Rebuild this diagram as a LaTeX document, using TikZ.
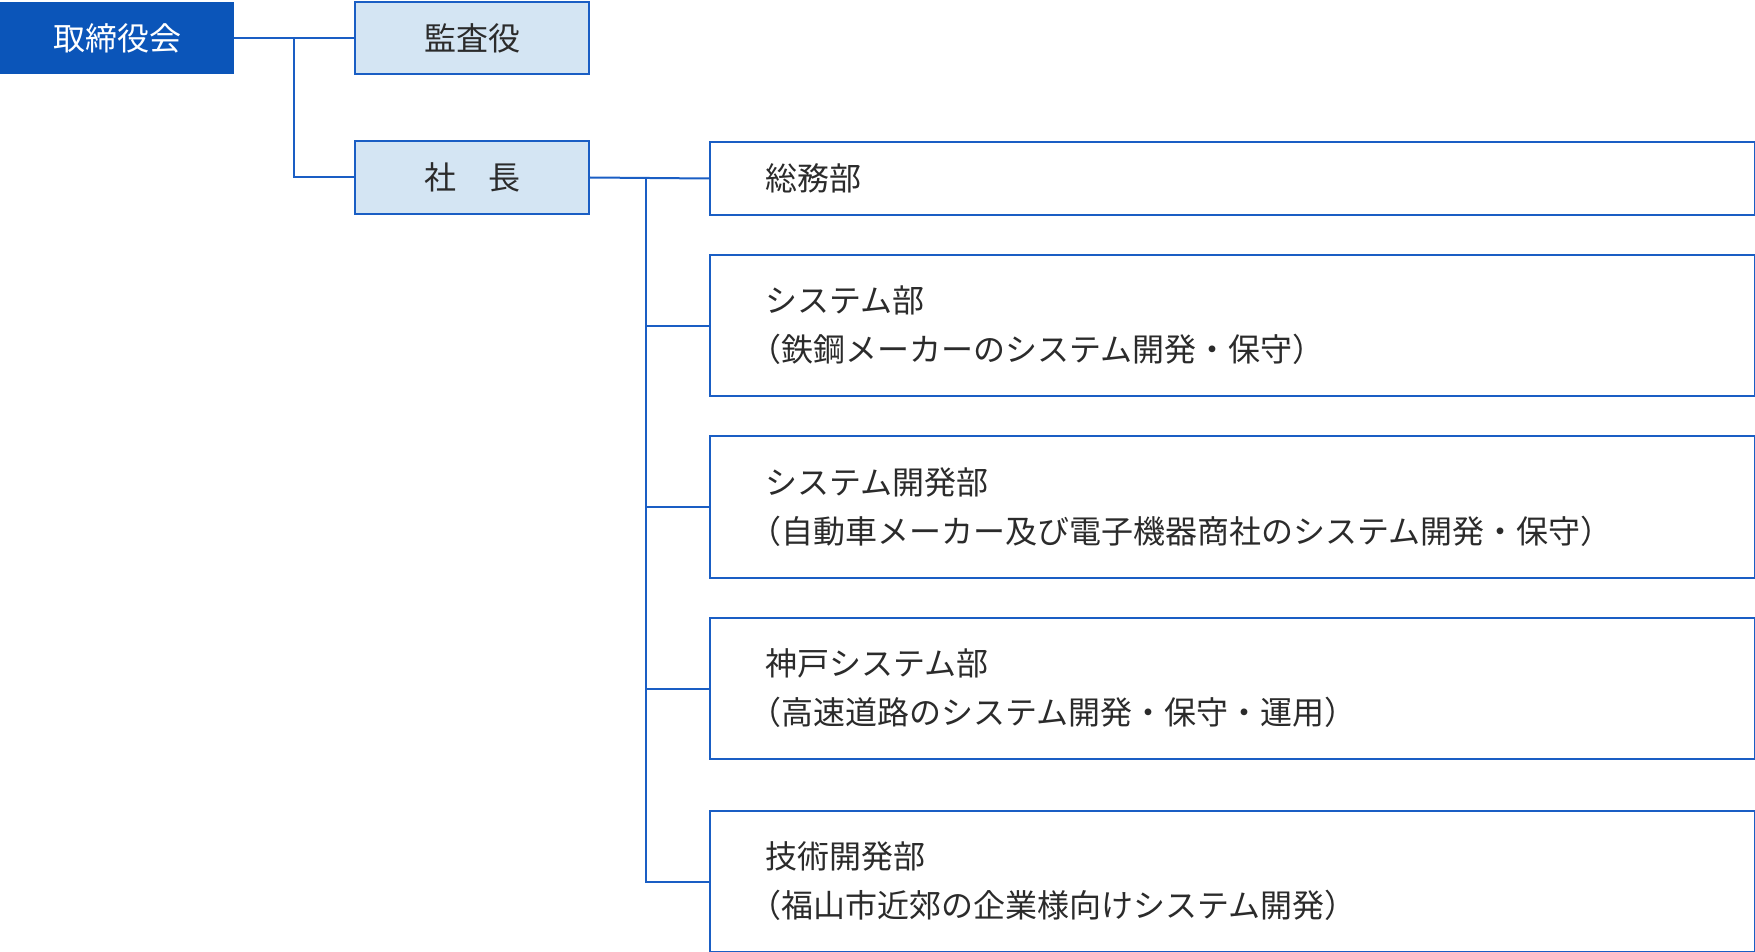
\documentclass[tikz,border=0pt]{standalone}
\usepackage{fontspec}
\setmainfont{Noto Sans CJK JP}
\usetikzlibrary{positioning}
\definecolor{board-fill}{HTML}{0B55B9}
\definecolor{head-fill}{HTML}{D4E5F3}
\definecolor{box-border}{HTML}{1A5EC4}
\definecolor{text-color}{HTML}{2B2B2B}
\newcommand{\openparen}{\hspace*{-0.5em}（}
\tikzset{
  board-node/.style={
    fill=board-fill, text=white, inner sep=0pt,
    minimum width=234pt, minimum height=72pt, font=\fontsize{32pt}{38pt}\selectfont
  },
  head-node/.style={
    draw=box-border, fill=head-fill, line width=2pt, text=text-color, inner sep=0pt,
    minimum width=234pt, minimum height=72pt, font=\fontsize{32pt}{38pt}\selectfont
  },
  dept-node/.style={
    draw=box-border, line width=2pt, text=text-color, anchor=north west,
    inner xsep=55pt, inner ysep=0pt, text width=935pt, align=left,
    font=\fontsize{32pt}{49pt}\selectfont
  },
  link/.style={draw=box-border, line width=2pt}
}
\begin{document}
\begin{tikzpicture}[x=1pt, y=-1pt]
  \useasboundingbox (0,0) rectangle (1755,952);

  \node[board-node] (board)     at (117, 38)    {取締役会};
  \node[head-node]  (audit)     at (472, 38)    {監査役};
  \node[head-node]  (president) at (472, 177.5) {社　長};

  \node[dept-node, minimum height=73pt]  (general) at (709, 141) {総務部};
  \node[dept-node, minimum height=141pt] (system)  at (709, 254) {システム部\\\openparen 鉄鋼メーカーのシステム開発・保守）};
  \node[dept-node, minimum height=142pt] (sysdev)  at (709, 435) {システム開発部\\\openparen 自動車メーカー及び電子機器商社のシステム開発・保守）};
  \node[dept-node, minimum height=141pt] (kobe)    at (709, 617) {神戸システム部\\\openparen 高速道路のシステム開発・保守・運用）};
  \node[dept-node, minimum height=141pt] (techdev) at (709, 810) {技術開発部\\\openparen 福山市近郊の企業様向けシステム開発）};

  % branch points
  \coordinate (board-split) at (294, 38);
  \coordinate (dept-split)  at (646, 177.5);

  \draw[link] (board.east) -- (audit.west);
  \draw[link] (board-split) |- (president.west);
  \draw[link] (president.east) -- (general.west);
  \draw[link] (dept-split) |- (system.west);
  \draw[link] (dept-split) |- (sysdev.west);
  \draw[link] (dept-split) |- (kobe.west);
  \draw[link] (dept-split) |- (techdev.west);
\end{tikzpicture}
\end{document}
